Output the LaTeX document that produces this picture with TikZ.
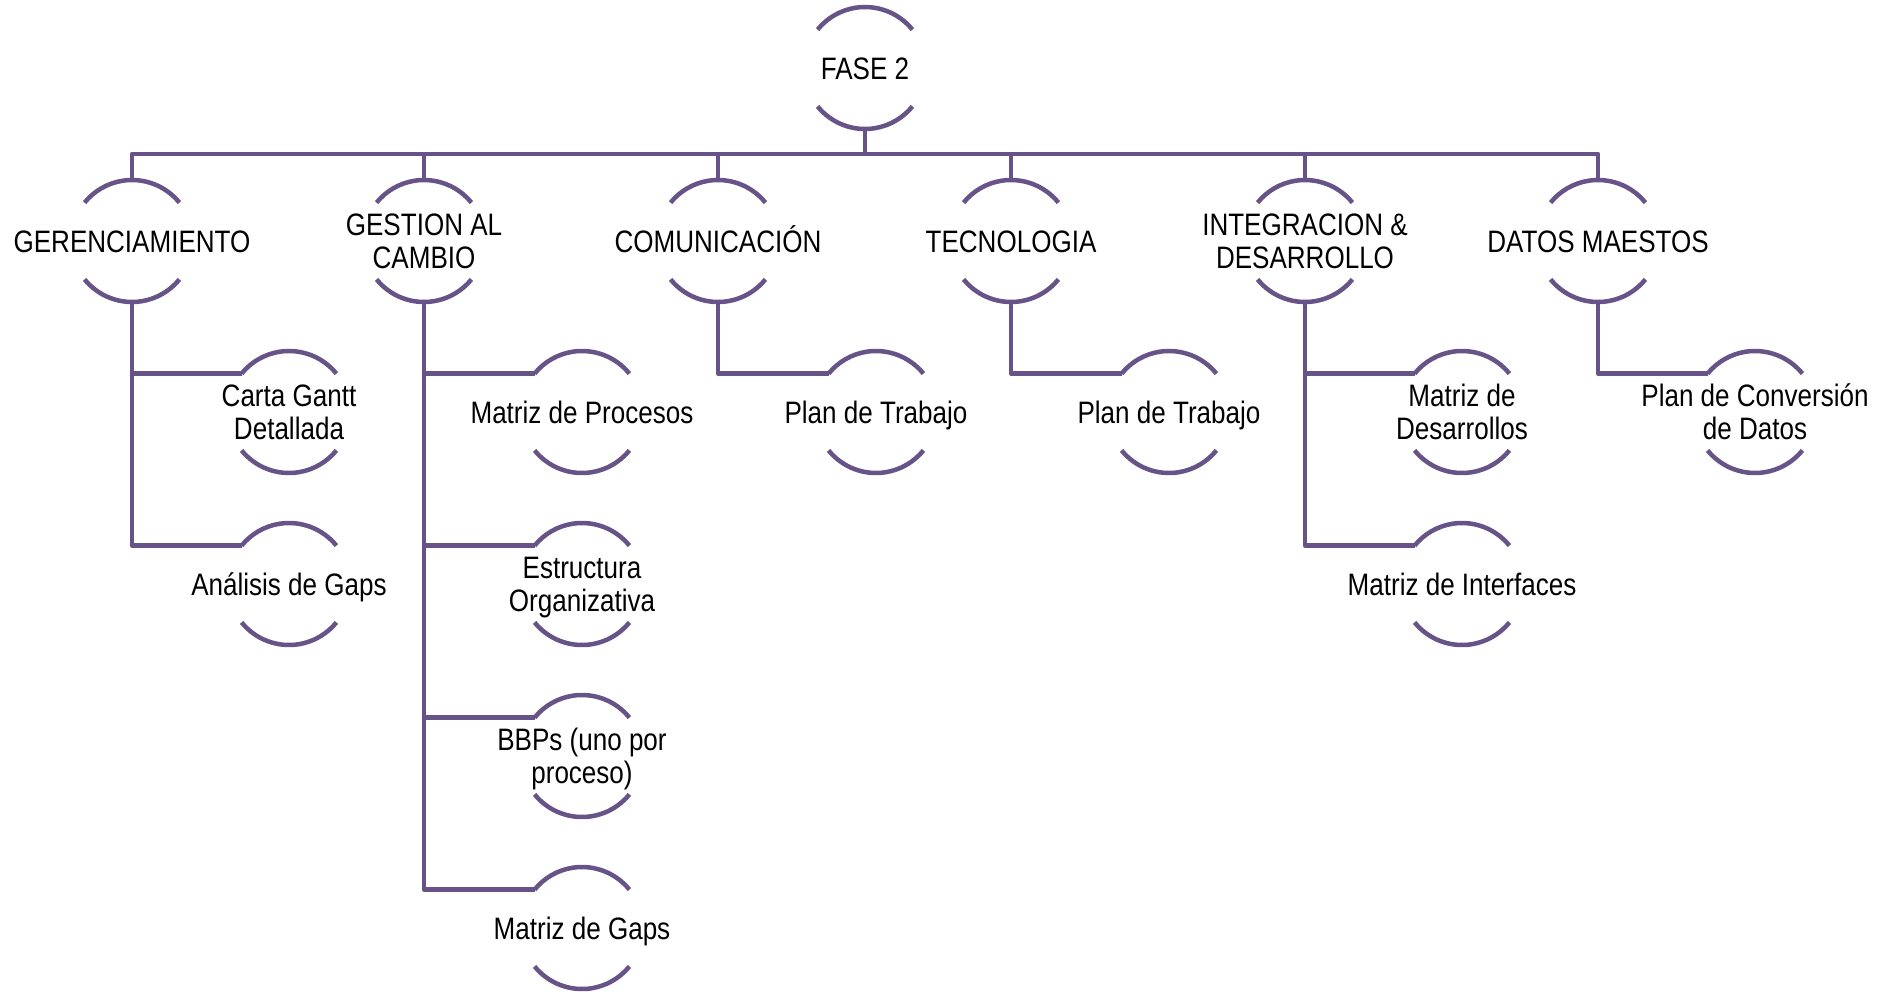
\documentclass[tikz,border=0pt]{standalone}
\usepackage{fontspec}
\setmainfont{Liberation Sans}[FakeStretch=0.84]
\definecolor{tree}{RGB}{103,83,135}

\begin{document}
\begin{tikzpicture}[x=1pt,y=1pt,
  link/.style={draw=tree,line width=4.5pt,line join=round},
  arcline/.style={draw=tree,line width=4.5pt},
  % text boxes get a fixed height (cap height, plus one baseline skip per
  % extra line) and no depth, so accents and descenders do not move them
  caption/.style={font=\fontsize{31}{33}\selectfont,align=center,text=black,
    inner sep=0pt,text depth=0pt},
  bubble/.style={circle,minimum size=122pt,inner sep=0pt,outer sep=0pt,
    label={[caption,text height=22.2pt]center:#1}},
  bubbletwo/.style={circle,minimum size=122pt,inner sep=0pt,outer sep=0pt,
    label={[caption,text height=55.2pt]center:#1}}]
\useasboundingbox (0,0) rectangle (1879,-994);

% root
\node[bubble={FASE 2}] (root) at (865,-68) {};

% first level
\node[bubble={GERENCIAMIENTO}]               (g1) at (132,-241) {};
\node[bubbletwo={GESTION AL\\CAMBIO}]        (g2) at (424,-241) {};
\node[bubble={COMUNICACIÓN}]                 (g3) at (718,-241) {};
\node[bubble={TECNOLOGIA}]                   (g4) at (1011,-241) {};
\node[bubbletwo={INTEGRACION \&\\DESARROLLO}] (g5) at (1305,-241) {};
\node[bubble={DATOS MAESTOS}]                (g6) at (1598,-241) {};

% second level
\node[bubbletwo={Carta Gantt\\Detallada}]      (c11) at (289,-412) {};
\node[bubble={Análisis de Gaps}]               (c12) at (289,-584) {};
\node[bubble={Matriz de Procesos}]             (c21) at (582,-412) {};
\node[bubbletwo={Estructura\\Organizativa}]    (c22) at (582,-584) {};
\node[bubbletwo={BBPs (uno por\\proceso)}]     (c23) at (582,-756) {};
\node[bubble={Matriz de Gaps}]                 (c24) at (582,-928) {};
\node[bubble={Plan de Trabajo}]                (c31) at (876,-412) {};
\node[bubble={Plan de Trabajo}]                (c41) at (1169,-412) {};
\node[bubbletwo={Matriz de\\Desarrollos}]      (c51) at (1462,-412) {};
\node[bubble={Matriz de Interfaces}]           (c52) at (1462,-584) {};
\node[bubbletwo={Plan de Conversión\\de Datos}] (c61) at (1755,-412) {};

% open circles: an upper and a lower arc around each label
\foreach \n in {root,g1,g2,g3,g4,g5,g6,c11,c12,c21,c22,c23,c24,c31,c41,c51,c52,c61}
  \draw[arcline] (\n.39) arc[start angle=39,end angle=141,radius=61pt]
                 (\n.219) arc[start angle=219,end angle=321,radius=61pt];

% bus from the root to the first level
\coordinate (bus) at (865,-154);
\draw[link] (root.south) -- (bus);
\foreach \g in {g1,g2,g3,g4,g5,g6}
  \draw[link] (bus) -| (\g.north);

% elbows from the first level to the second
\foreach \p/\c in {g1/c11,g1/c12,g2/c21,g2/c22,g2/c23,g2/c24,g3/c31,g4/c41,g5/c51,g5/c52,g6/c61}
  \draw[link] (\p.south) |- (\c.141);
\end{tikzpicture}
\end{document}
